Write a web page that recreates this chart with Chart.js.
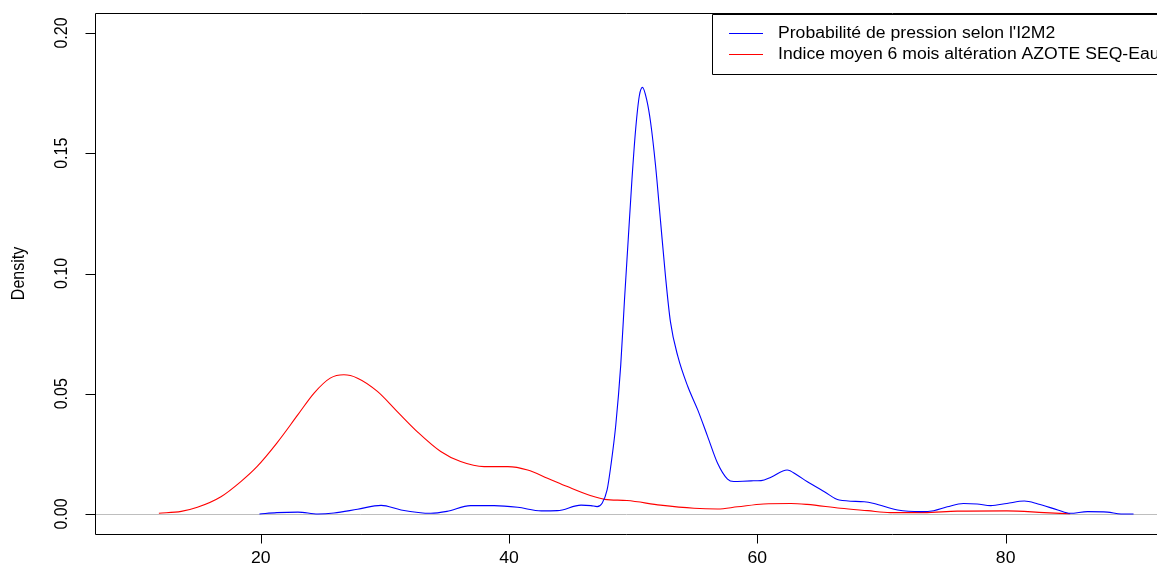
<!DOCTYPE html>
<html>
<head>
<meta charset="utf-8">
<script src="https://cdn.jsdelivr.net/npm/chart.js@4"></script>
<style>
  html, body { margin: 0; padding: 0; background: #fff; }
  #wrap { width: 1157px; height: 572px; overflow: hidden; }
</style>
</head>
<body>
<div id="wrap"><canvas id="densityChart" width="1157" height="572"></canvas></div>
<script>
// Density estimates (x, density)
const i2m2X = [19.9, 21.3, 23.0, 24.6, 25.9, 27.8, 29.7, 31.3, 33.7, 35.0, 36.9, 38.8, 40.7, 42.6, 43.9,
  45.8, 46.6, 47.1, 47.5, 47.9, 48.2, 48.6, 49.0, 49.3, 49.6, 49.9, 50.2, 50.5, 50.75, 51.1, 51.4,
  51.8, 52.2, 52.6, 53.0, 53.6, 54.4, 55.2, 56.0, 56.8, 57.6, 58.1, 59.5, 60.3, 61.1, 62.4, 63.2,
  64.0, 65.4, 66.6, 68.6, 69.4, 71.3, 73.2, 74.2, 75.3, 76.6, 77.7, 78.8, 80.1, 81.5, 82.6, 84.2,
  85.2, 86.6, 88.2, 89.3, 90.3];
const i2m2Y = [0, 0.0006, 0.0008, 0, 0.0004, 0.002, 0.0036, 0.0017, 0.0003, 0.0011, 0.0035, 0.0035, 0.0028, 0.0013, 0.0014,
  0.0037, 0.0035, 0.0031, 0.0045, 0.010, 0.020, 0.037, 0.062, 0.089, 0.114, 0.139, 0.160, 0.174, 0.1774, 0.172, 0.163,
  0.145, 0.122, 0.099, 0.080, 0.0655, 0.053, 0.0433, 0.0322, 0.0211, 0.0145, 0.0135, 0.0138, 0.0139, 0.0153, 0.0183, 0.0162,
  0.0135, 0.0093, 0.0058, 0.0051, 0.0044, 0.0017, 0.001, 0.0014, 0.003, 0.0044, 0.0042, 0.0035, 0.0044, 0.0054, 0.0042, 0.0017,
  0.0003, 0.001, 0.0008, 0, 0];

const azoteX = [11.8, 13.6, 14.9, 16.8, 18.4, 19.7, 21.3, 23.0, 24.3, 25.6, 26.7, 27.8, 29.4, 31.0, 32.6,
  34.5, 36.1, 38.0, 39.9, 41.5, 43.1, 44.7, 46.6, 47.7, 49.5, 52.2, 54.9, 56.8, 58.4, 60.5, 62.7,
  64.0, 66.7, 68.9, 70.7, 73.4, 76.1, 80.1, 83.1, 85.2];
const azoteY = [0.0003, 0.0011, 0.0028, 0.0072, 0.0135, 0.0197, 0.0295, 0.0413, 0.0503, 0.0565, 0.0579, 0.0565, 0.051, 0.0426, 0.0343,
  0.026, 0.0218, 0.0197, 0.0197, 0.0183, 0.0149, 0.0114, 0.0076, 0.0061, 0.0056, 0.0037, 0.0024, 0.0021, 0.003, 0.0042, 0.0044,
  0.004, 0.0024, 0.0014, 0.0006, 0.0006, 0.0012, 0.0013, 0.0006, 0.0001];

const xTicks = [20, 40, 60, 80];
const yTicks = [0, 0.05, 0.10, 0.15, 0.20];
const yTickLabels = ['0.00', '0.05', '0.10', '0.15', '0.20'];
const yTitle = 'Density';
const seriesNames = ["Probabilité de pression selon l'I2M2", 'Indice moyen 6 mois altération AZOTE SEQ-Eau'];
const seriesColors = ['#0000ff', '#ff0000'];

const FONT = '16px "Liberation Sans", Arial, sans-serif';
const STRETCH = 1.1;

function toPoints(xs, ys) {
  return xs.map((x, i) => ({ x: x, y: ys[i] }));
}

function drawText(ctx, text, x, y, align, rotate) {
  ctx.save();
  ctx.translate(x, y);
  ctx.scale(STRETCH, 1);
  if (rotate) ctx.rotate(-Math.PI / 2);
  ctx.textAlign = align;
  ctx.textBaseline = 'middle';
  ctx.fillText(text, 0, 0);
  ctx.restore();
}

// R-style frame: zero line, box, ticks, labels, legend
const rFrame = {
  id: 'rFrame',
  beforeDatasetsDraw(chart) {
    const { ctx, chartArea: a, scales: { y } } = chart;
    const y0 = Math.round(y.getPixelForValue(0)) + 0.5;
    ctx.save();
    ctx.strokeStyle = '#bebebe';
    ctx.lineWidth = 1;
    ctx.beginPath();
    ctx.moveTo(a.left, y0);
    ctx.lineTo(a.right + 5, y0);
    ctx.stroke();
    ctx.restore();
  },
  afterDraw(chart) {
    const { ctx, chartArea: a, scales: { x, y } } = chart;
    const L = Math.round(a.left) + 0.5, T = Math.round(a.top) + 0.5, B = Math.round(a.bottom) + 0.5;
    ctx.save();
    ctx.strokeStyle = '#000';
    ctx.lineWidth = 1;
    ctx.beginPath();
    ctx.moveTo(a.right + 5, T);
    ctx.lineTo(L, T);
    ctx.lineTo(L, B);
    ctx.lineTo(a.right + 5, B);
    ctx.stroke();

    ctx.fillStyle = '#000';
    ctx.font = FONT;

    // x axis
    ctx.beginPath();
    xTicks.forEach(v => {
      const px = Math.round(x.getPixelForValue(v)) + 0.5;
      ctx.moveTo(px, B);
      ctx.lineTo(px, B + 9);
    });
    ctx.stroke();
    xTicks.forEach(v => drawText(ctx, String(v), x.getPixelForValue(v), B + 24, 'center', false));

    // y axis
    ctx.beginPath();
    yTicks.forEach(v => {
      const py = Math.round(y.getPixelForValue(v)) + 0.5;
      ctx.moveTo(L, py);
      ctx.lineTo(L - 10, py);
    });
    ctx.stroke();
    yTicks.forEach((v, i) => drawText(ctx, yTickLabels[i], 62, y.getPixelForValue(v), 'center', true));
    drawText(ctx, yTitle, 19, (a.top + a.bottom) / 2, 'center', true);

    // legend
    ctx.beginPath();
    ctx.moveTo(a.right + 5, 14.5);
    ctx.lineTo(712.5, 14.5);
    ctx.lineTo(712.5, 74.5);
    ctx.lineTo(a.right + 5, 74.5);
    ctx.stroke();
    seriesNames.forEach((name, i) => {
      const ly = 33.5 + i * 21;
      ctx.strokeStyle = seriesColors[i];
      ctx.beginPath();
      ctx.moveTo(729, ly);
      ctx.lineTo(763, ly);
      ctx.stroke();
      drawText(ctx, name, 778, ly, 'left', false);
    });
    ctx.restore();
  }
};

new Chart(document.getElementById('densityChart'), {
  type: 'scatter',
  data: {
    datasets: [
      { label: seriesNames[0], data: toPoints(i2m2X, i2m2Y), borderColor: seriesColors[0] },
      { label: seriesNames[1], data: toPoints(azoteX, azoteY), borderColor: seriesColors[1] }
    ].map(ds => Object.assign(ds, {
      showLine: true,
      pointRadius: 0,
      borderWidth: 1.1,
      cubicInterpolationMode: 'monotone',
      fill: false
    }))
  },
  options: {
    responsive: false,
    animation: false,
    layout: { padding: { left: 95, right: 0, top: 13, bottom: 38 } },
    plugins: { legend: { display: false }, tooltip: { enabled: false } },
    scales: {
      x: { type: 'linear', min: 6.655, max: 92.19, display: false },
      y: { type: 'linear', min: -0.0083, max: 0.2083, display: false }
    }
  },
  plugins: [rFrame]
});
</script>
</body>
</html>
